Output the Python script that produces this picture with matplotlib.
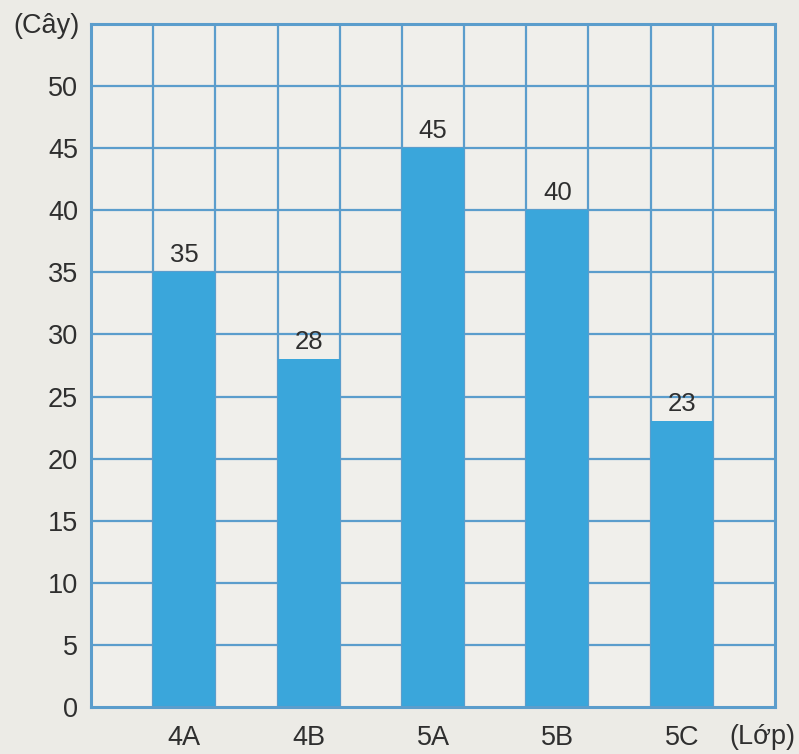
import matplotlib
matplotlib.use('Agg')
import matplotlib.pyplot as plt

# Số cây của từng lớp
lop = ['4A', '4B', '5A', '5B', '5C']
so_cay = [35, 28, 45, 40, 23]
vi_tri = [1.5, 3.5, 5.5, 7.5, 9.5]
muc_y = list(range(0, 55, 5))

nen = '#ecebe6'
xanh_luoi = '#5b9dcc'
xanh_cot = '#3aa6db'
chu = '#2f2f2f'

plt.rcParams['font.family'] = ['Liberation Sans Narrow', 'Liberation Sans', 'DejaVu Sans']

fig = plt.figure(figsize=(7.99, 7.54), dpi=100, facecolor=nen)
ax = fig.add_axes([0.114, 0.0623, 0.856, 0.906])
ax.set_facecolor('#f0efeb')

ax.set_xlim(0, 11)
ax.set_ylim(0, 55)

# lưới ô vuông
for x in range(1, 11):
    ax.axvline(x, color=xanh_luoi, lw=1.6, zorder=1)
for y in range(5, 55, 5):
    ax.axhline(y, color=xanh_luoi, lw=1.6, zorder=1)

ax.bar(vi_tri, so_cay, width=1.0, color=xanh_cot, zorder=2)
for x, v in zip(vi_tri, so_cay):
    ax.text(x, v + 0.8, str(v), ha='center', va='baseline', fontsize=18.5, color=chu, zorder=3)

for s in ax.spines.values():
    s.set_color(xanh_luoi)
    s.set_linewidth(2.2)

ax.set_yticks(muc_y)
ax.set_yticklabels([str(v) for v in muc_y])
ax.set_xticks(vi_tri)
ax.set_xticklabels(lop)
ax.tick_params(length=0, labelsize=19.5, colors=chu)
ax.tick_params(axis='x', pad=13)
ax.tick_params(axis='y', pad=9.5)

ax.text(-0.72, 54.8, '(Cây)', ha='center', va='center', fontsize=19.5, color=chu)
ax.text(10.8, -2.45, '(Lớp)', ha='center', va='center', fontsize=19.5, color=chu)

fig.savefig('out.png', dpi=100, facecolor=nen)
